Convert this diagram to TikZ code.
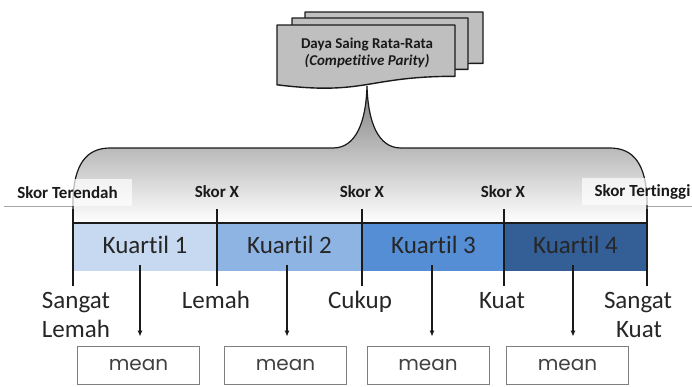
\documentclass[tikz,border=0pt]{standalone}
\usepackage{fontspec}
\setmainfont{Carlito}[Ligatures=NoCommon]
\newfontfamily\meanfont{Poppins}
\usetikzlibrary{arrows.meta,calc}

\definecolor{shade}{HTML}{BFBFBF}
\definecolor{ink}{HTML}{1A1A1A}
\definecolor{txt}{HTML}{262626}
\definecolor{rule}{HTML}{A6A6A6}
\definecolor{boxline}{HTML}{7F7F7F}
\definecolor{meantxt}{HTML}{404040}
\definecolor{qone}{HTML}{C6D9F1}
\definecolor{qtwo}{HTML}{8EB4E3}
\definecolor{qthree}{HTML}{558ED5}
\definecolor{qfour}{HTML}{335E96}

\begin{document}
\begin{tikzpicture}[x=1pt,y=-1pt,
  sheet/.style={fill=shade, draw=ink, line width=1.4pt, line join=round},
  braceline/.style={draw=ink, line width=1.2pt},
  scoretick/.style={draw=ink, line width=1.3pt},
  scorelbl/.style={font=\bfseries\fontsize{17}{20}\selectfont, anchor=base, text=ink},
  endlbl/.style={fill=white, fill opacity=0.7, text opacity=1, text=ink,
    font=\bfseries\fontsize{17}{20}\selectfont, inner sep=0pt,
    text height=11pt, text depth=0pt, minimum height=27pt},
  sheetlbl/.style={font=\bfseries\fontsize{15}{18}\selectfont, anchor=base, text=ink},
  quartlbl/.style={font=\fontsize{25}{30}\selectfont, anchor=base, text=txt},
  levellbl/.style={font=\fontsize{25}{30}\selectfont, anchor=base, text=txt},
  meanbox/.style={draw=boxline, line width=0.8pt, minimum width=122pt,
    minimum height=38pt, inner sep=0pt, font=\meanfont\fontsize{20}{24}\selectfont,
    text=meantxt},
  arr/.style={-{Latex[length=6pt,width=5pt]}, line width=1.3pt, draw=ink, shorten >=9pt}
]
\useasboundingbox (0,0) rectangle (692,386);

% thin rule behind the brace
\draw[rule, line width=0.6pt] (4,206) -- (692,206);

% brace body
\fill[shade] (73,223) -- (73,200) .. controls (74,165) and (86,148) .. (110,148)
  -- (333,148) .. controls (356,148) and (366,122) .. (367,86)
  .. controls (368,122) and (378,148) .. (401,148)
  -- (610,148) .. controls (634,148) and (646,165) .. (647,200) -- (647,223) -- cycle;
\draw[braceline] (73,223) -- (73,200) .. controls (74,165) and (86,148) .. (110,148)
  -- (333,148) .. controls (356,148) and (366,122) .. (367,86)
  .. controls (368,122) and (378,148) .. (401,148)
  -- (610,148) .. controls (634,148) and (646,165) .. (647,200) -- (647,223);

% stacked document sheets
\draw[sheet] (305,12) -- (483,12) -- (483,63.3) .. controls (394,63.3) and (394,82.8) .. (305,71.8) -- cycle;
\draw[sheet] (292,18) -- (468,18) -- (468,69.3) .. controls (380,69.3) and (380,88.8) .. (292,77.8) -- cycle;
\draw[sheet] (277,25) -- (455,25) -- (455,76.3) .. controls (366,76.3) and (366,95.8) .. (277,84.8) -- cycle;
\node[sheetlbl] (title) at (367,48) {Daya Saing Rata-Rata};
\node[sheetlbl, font=\bfseries\itshape\fontsize{15}{18}\selectfont] (subtitle) at (367,65) {(Competitive Parity)};

% end labels
\node[endlbl, minimum width=129pt] (low) at (67.5,192.5) {Skor Terendah};
\node[endlbl, minimum width=121pt] (high) at (642.5,191) {Skor Tertinggi};

% quartile bar
\fill[qone]   (73,223) rectangle (217,271);
\fill[qtwo]   (217,223) rectangle (362,271);
\fill[qthree] (362,223) rectangle (504,271);
\fill[qfour]  (504,223) rectangle (647,271);
\draw[braceline] (73,223) -- (647,223);

% score ticks
\foreach \x in {73,217,362,504,647}
  \draw[scoretick] (\x,209) -- (\x,286);

\node[scorelbl] (s1) at (217,197) {Skor X};
\node[scorelbl] (s2) at (362,197) {Skor X};
\node[scorelbl] (s3) at (503,197) {Skor X};

\node[quartlbl] (q1) at (145,253) {Kuartil 1};
\node[quartlbl] (q2) at (289.5,253) {Kuartil 2};
\node[quartlbl] (q3) at (433.5,253) {Kuartil 3};
\node[quartlbl] (q4) at (575.5,253) {Kuartil 4};

% category labels
\node[levellbl] (l1a) at (76,308) {Sangat};
\node[levellbl] (l1b) at (76,337) {Lemah};
\node[levellbl] (l2) at (216,308) {Lemah};
\node[levellbl] (l3) at (360,308) {Cukup};
\node[levellbl] (l4) at (502,308) {Kuat};
\node[levellbl] (l5a) at (638,308) {Sangat};
\node[levellbl] (l5b) at (639,337) {Kuat};

% mean boxes
\node[meanbox] (m1) at (138.5,365) {mean};
\node[meanbox] (m2) at (285.5,365) {mean};
\node[meanbox] (m3) at (428,365) {mean};
\node[meanbox] (m4) at (567.5,365) {mean};

% arrows from quartiles to means
\coordinate (a1) at (140,265);
\coordinate (a2) at (287,265);
\coordinate (a3) at (432,265);
\coordinate (a4) at (573,265);
\draw[arr] (a1) -- (a1 |- m1.north);
\draw[arr] (a2) -- (a2 |- m2.north);
\draw[arr] (a3) -- (a3 |- m3.north);
\draw[arr] (a4) -- (a4 |- m4.north);
\end{tikzpicture}
\end{document}
